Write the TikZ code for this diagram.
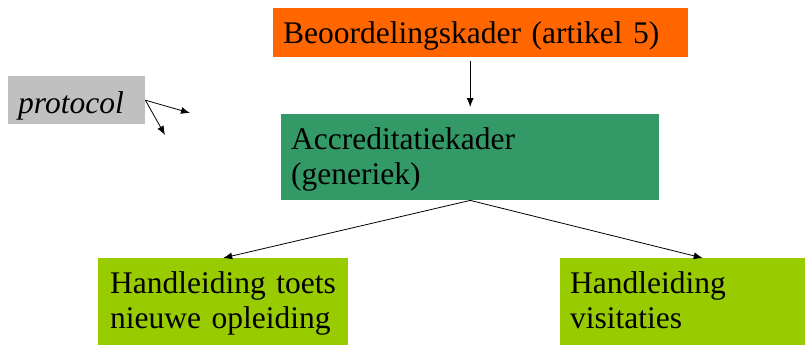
\documentclass[tikz,border=0pt]{standalone}
\usepackage{fontspec}
\setmainfont{Liberation Serif}
\usetikzlibrary{arrows.meta}
\definecolor{kaderorange}{HTML}{FF6600}
\definecolor{kadergreen}{HTML}{339966}
\definecolor{handlime}{HTML}{99CC00}
\definecolor{protgray}{HTML}{C0C0C0}
\begin{document}
\begin{tikzpicture}[x=1pt, y=-1pt,
        box/.style = {anchor=north west, align=left, inner xsep=10pt, inner ysep=0pt,
            text height=35pt, font=\fontsize{31.5}{35}\selectfont},
        arr/.style = {-{Latex[length=9pt,width=7pt]}, line width=0.8pt}
        ]
        \useasboundingbox (0,0) rectangle (805,345);
        \node[box, fill=kaderorange, text width=395pt, text depth=14pt] (beoordeling) at (273,8)
            {Beoordelingskader (artikel 5)};
        \node[box, fill=kadergreen, text width=358pt, text depth=51pt] (accreditatie) at (281,114)
            {Accreditatiekader\\(generiek)};
        \node[box, fill=handlime, text width=226pt, inner xsep=12pt, text depth=52pt] (toets) at (98,258)
            {Handleiding toets\\nieuwe opleiding};
        \node[box, fill=handlime, text width=225pt, text depth=52pt] (visitatie) at (560,258)
            {Handleiding\\visitaties};
        \node[box, fill=protgray, text width=117pt, text height=37pt, text depth=11pt] (protocol) at (8,76)
            {\itshape protocol};
        \coordinate (vrij1) at (190,113);
        \coordinate (vrij2) at (165,135);
        \draw[arr, shorten <=4pt, shorten >=7pt] (accreditatie.north |- beoordeling.south) -- (accreditatie.north);
        \draw[arr] (accreditatie.south) -- (toets.north);
        \draw[arr] (accreditatie.south) -- ([xshift=20pt]visitatie.north);
        \draw[arr] (protocol.east) -- (vrij1);
        \draw[arr] (protocol.east) -- (vrij2);
    \end{tikzpicture}
\end{document}
